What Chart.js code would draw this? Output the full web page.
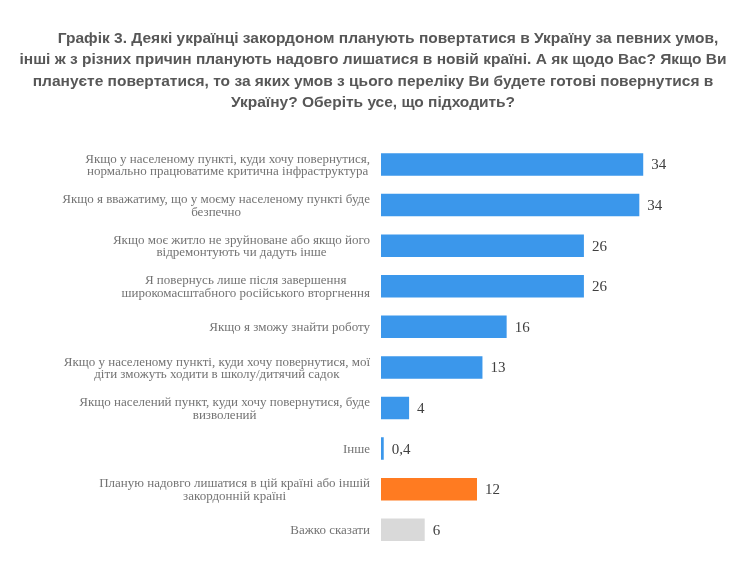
<!DOCTYPE html>
<html>
<head>
<meta charset="utf-8">
<script src="https://cdn.jsdelivr.net/npm/chart.js@4"></script>
<style>
  html, body { margin: 0; padding: 0; background: #ffffff; }
  #wrap { width: 740px; height: 588px; }
</style>
</head>
<body>
<div id="wrap"><canvas id="grafik"></canvas></div>
<script>
const kategorii = [
    ["Якщо у населеному пункті, куди хочу повернутися,", "нормально працюватиме критична інфраструктура"],
    ["Якщо я вважатиму, що у моєму населеному пункті буде", "безпечно"],
    ["Якщо моє житло не зруйноване або якщо його", "відремонтують чи дадуть інше"],
    ["Я повернусь лише після завершення", "широкомасштабного російського вторгнення"],
    ["Якщо я зможу знайти роботу"],
    ["Якщо у населеному пункті, куди хочу повернутися, мої", "діти зможуть ходити в школу/дитячий садок"],
    ["Якщо населений пункт, куди хочу повернутися, буде", "визволений"],
    ["Інше"],
    ["Планую надовго лишатися в цій країні або іншій", "закордонній країні"],
    ["Важко сказати"]
]
const znachennia = [33.6, 33.1, 26, 26, 16.1, 13, 3.6, 0.35, 12.3, 5.6]
const pidpysy = ["34", "34", "26", "26", "16", "13", "4", "0,4", "12", "6"]
const kolory = ['#3B97EB', '#3B97EB', '#3B97EB', '#3B97EB', '#3B97EB', '#3B97EB', '#3B97EB', '#3B97EB', '#FF7B21', '#D9D9D9']
const zagolovok = [
    "\u00A0\u00A0\u00A0\u00A0\u00A0\u00A0\u00A0Графік 3. Деякі українці закордоном планують повертатися в Україну за певних умов,",
    "інші ж з різних причин планують надовго лишатися в новій країні. А як щодо Вас? Якщо Ви",
    "плануєте повертатися, то за яких умов з цього переліку Ви будете готові повернутися в",
    "Україну? Оберіть усе, що підходить?"
]

// підписи значень праворуч від смуг
const pidpysyZnachen = {
    id: 'pidpysyZnachen',
    afterDatasetsDraw(chart) {
        const ctx = chart.ctx
        const meta = chart.getDatasetMeta(0)
        ctx.save()
        ctx.font = '15px "Liberation Serif"'
        ctx.fillStyle = '#404040'
        ctx.textAlign = 'left'
        ctx.textBaseline = 'middle'
        meta.data.forEach((bar, i) => {
            ctx.fillText(pidpysy[i], bar.x + 8, bar.y + 1)
        })
        ctx.restore()
    }
}

// категорії: блок вирівняний праворуч, рядки всередині по центру
const pidpysyKategorii = {
    id: 'pidpysyKategorii',
    afterDraw(chart) {
        const ctx = chart.ctx
        const s = chart.scales.y
        const pravyi = s.right - 11
        const krok = 12.5
        ctx.save()
        ctx.font = '13px "Liberation Serif"'
        ctx.fillStyle = '#737373'
        ctx.textAlign = 'center'
        ctx.textBaseline = 'middle'
        kategorii.forEach((ryadky, i) => {
            const y = s.getPixelForTick(i) + 1
            let shyryna = 0
            ryadky.forEach(r => { shyryna = Math.max(shyryna, ctx.measureText(r).width) })
            const cx = pravyi - shyryna / 2
            const y0 = y - (ryadky.length - 1) * krok / 2
            ryadky.forEach((r, j) => ctx.fillText(r, cx, y0 + j * krok))
        })
        ctx.restore()
    }
}

const grafik = document.getElementById("grafik")

new Chart(grafik, {
    type: 'bar',
    data: {
        labels: kategorii,
        datasets: [{
            label: "Відсоток",
            data: znachennia,
            backgroundColor: kolory,
            borderWidth: 0,
            categoryPercentage: 1,
            barPercentage: 0.555
        }]
    },
    options: {
        indexAxis: 'y',
        responsive: true,
        maintainAspectRatio: false,
        animation: false,
        layout: {
            padding: { left: 6, right: 0, top: 0, bottom: 38 }
        },
        plugins: {
            legend: { display: false },
            tooltip: { enabled: false },
            title: {
                display: true,
                text: zagolovok,
                color: '#575757',
                font: {
                    family: '"Liberation Sans", Arial, sans-serif',
                    size: 15.5,
                    weight: 'bold',
                    lineHeight: 1.375
                },
                padding: { top: 28, bottom: 31 }
            }
        },
        scales: {
            x: {
                display: false,
                min: 0,
                max: 46
            },
            y: {
                afterFit(scale) {
                    scale.width = 375
                },
                grid: { display: false },
                border: { display: false },
                ticks: { display: false }
            }
        }
    },
    plugins: [pidpysyZnachen, pidpysyKategorii]
});
</script>
</body>
</html>
